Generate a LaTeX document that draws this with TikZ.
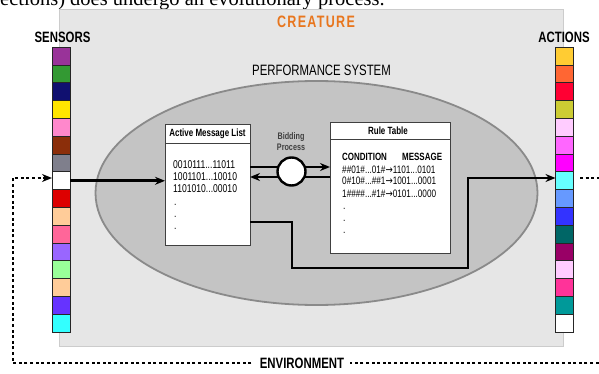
\documentclass[tikz,border=0pt]{standalone}
\usepackage{fontspec}
\setmainfont{Liberation Sans}
\newfontfamily\condsans[FakeStretch=0.76]{Liberation Sans}
\newfontfamily\serifbody{Liberation Serif}
\newfontfamily\arrowfont[FakeStretch=0.8]{DejaVu Sans}
\usetikzlibrary{arrows.meta}

\definecolor{creaturebg}{HTML}{E6E6E6}
\definecolor{creatureedge}{HTML}{CCCCCC}
\definecolor{perfbg}{HTML}{C4C4C4}
\definecolor{perfedge}{HTML}{8A8A8A}
\definecolor{creatureorange}{HTML}{E8761E}
% sensor colours, top to bottom
\definecolor{sA}{HTML}{993399}\definecolor{sB}{HTML}{339933}
\definecolor{sC}{HTML}{101070}\definecolor{sD}{HTML}{FFE600}
\definecolor{sE}{HTML}{FF88CC}\definecolor{sF}{HTML}{8B2E0A}
\definecolor{sG}{HTML}{7F7F8C}\definecolor{sH}{HTML}{FFFFFF}
\definecolor{sI}{HTML}{DD0000}\definecolor{sJ}{HTML}{FFCC99}
\definecolor{sK}{HTML}{FF6699}\definecolor{sL}{HTML}{9966FF}
\definecolor{sM}{HTML}{99FF99}\definecolor{sN}{HTML}{FFCC99}
\definecolor{sO}{HTML}{6633FF}\definecolor{sP}{HTML}{33FFFF}
% action colours, top to bottom
\definecolor{aA}{HTML}{FFCC33}\definecolor{aB}{HTML}{FF6633}
\definecolor{aC}{HTML}{FF0033}\definecolor{aD}{HTML}{CCCC33}
\definecolor{aE}{HTML}{FFCCFF}\definecolor{aF}{HTML}{FF66FF}
\definecolor{aG}{HTML}{FF00FF}\definecolor{aH}{HTML}{66FFFF}
\definecolor{aI}{HTML}{6699FF}\definecolor{aJ}{HTML}{3333FF}
\definecolor{aK}{HTML}{006666}\definecolor{aL}{HTML}{990066}
\definecolor{aM}{HTML}{FFCCFF}\definecolor{aN}{HTML}{FF3399}
\definecolor{aO}{HTML}{009999}\definecolor{aP}{HTML}{FFFFFF}

\tikzset{
  cell/.style={draw=black!85, line width=1pt, minimum width=18pt,
    minimum height=17.8pt, inner sep=0pt, outer sep=0pt},
  flow/.style={line width=2.6pt, draw=black},
  tip/.style={-{Stealth[length=10pt,width=8pt]}},
  envline/.style={line width=2.6pt, dash pattern=on 3pt off 2.6pt},
  panel/.style={draw=black!75, fill=white, line width=0.8pt,
    inner sep=0pt, outer sep=0pt},
  biglabel/.style={font=\condsans\fontsize{15}{15}\selectfont\bfseries,
    inner sep=1pt},
  headlabel/.style={font=\condsans\fontsize{10.5}{11}\selectfont\bfseries,
    inner sep=0pt},
  rowtext/.style={font=\condsans\fontsize{11.3}{12}\selectfont,
    anchor=base west, inner sep=0pt},
  ruletext/.style={rowtext, font=\condsans\fontsize{10.8}{12}\selectfont},
}

\begin{document}
\begin{tikzpicture}[x=1pt, y=-1pt]
\useasboundingbox (0,0) rectangle (599,374);
\clip (0,0) rectangle (599,374);

% running text of the page above the figure
\node[anchor=base west, inner sep=0pt,
  font=\serifbody\fontsize{20.5}{22}\selectfont] (runin) at (0,6)
  {ections) does undergo an evolutionary process.};

% creature panel
\fill[creaturebg, draw=creatureedge, line width=0.8pt]
  (59,9.5) rectangle (563,346);
\node[biglabel, text=creatureorange,
  font=\condsans\fontsize{16.5}{16}\selectfont\bfseries\addfontfeatures{LetterSpace=8}]
  (creature) at (316,22) {CREATURE};

% performance system
\filldraw[draw=perfedge, fill=perfbg, line width=1.8pt]
  (316.5,193) ellipse [x radius=221, y radius=112];
\node[font=\condsans\fontsize{15}{15}\selectfont] (perf) at (321.5,70)
  {PERFORMANCE SYSTEM};

% sensors and actions
\node[biglabel] (sensors) at (62.5,37.5) {SENSORS};
\node[biglabel] (actions) at (564,37.5) {ACTIONS};
\foreach \c [count=\i] in {sA,sB,sC,sD,sE,sF,sG,sH,sI,sJ,sK,sL,sM,sN,sO,sP}
  \node[cell, fill=\c] (s\i) at (61,{47.3+17.8*(\i-0.5)}) {};
\foreach \c [count=\i] in {aA,aB,aC,aD,aE,aF,aG,aH,aI,aJ,aK,aL,aM,aN,aO,aP}
  \node[cell, fill=\c] (a\i) at (564.5,{47.3+17.8*(\i-0.5)}) {};

% active message list
\node[panel, minimum width=85pt, minimum height=121pt] (alm) at (207.5,184.5) {};
\draw[black!75, line width=0.8pt]
  ([yshift=-19pt]alm.north west) -- ([yshift=-19pt]alm.north east);
\node[headlabel] (almhead) at (207.5,134) {Active Message List};
\node[rowtext] (m1) at (173,168) {0010111...11011};
\node[rowtext] (m2) at (173,180.5) {1001101...10010};
\node[rowtext] (m3) at (173,193) {1101010...00010};
\node[rowtext] (md1) at (174,205) {.};
\node[rowtext] (md2) at (174,217) {.};
\node[rowtext] (md3) at (174,229) {.};

% rule table
\node[panel, minimum width=120pt, minimum height=131pt] (rules) at (390,187.5) {};
\draw[black!75, line width=0.8pt]
  ([yshift=-17pt]rules.north west) -- ([yshift=-17pt]rules.north east);
\node[headlabel] (ruleshead) at (388,131) {Rule Table};
\node[rowtext, font=\condsans\fontsize{10.5}{11}\selectfont\bfseries]
  (cond) at (342,160.5) {CONDITION};
\node[rowtext, font=\condsans\fontsize{10.5}{11}\selectfont\bfseries]
  (msg) at (402,160.5) {MESSAGE};
\node[ruletext] (r1) at (342,173.5) {\#\#01\#...01\#{\arrowfont→}1101...0101};
\node[ruletext] (r2) at (342,185) {0\#10\#...\#\#1{\arrowfont→}1001...0001};
\node[ruletext] (r3) at (342,197) {1\#\#\#\#...\#1\#{\arrowfont→}0101...0000};
\node[rowtext] (rd1) at (343,209) {.};
\node[rowtext] (rd2) at (343,221) {.};
\node[rowtext] (rd3) at (343,233) {.};

% bidding process
\node[font=\condsans\fontsize{9.5}{10}\selectfont\bfseries, text=black!75,
  align=center, inner sep=0pt] (bidlabel) at (291,141.5)
  {Bidding\\[1.5pt]Process};
\coordinate (almtop) at (alm.east |- 0,167);
\coordinate (almbot) at (alm.east |- 0,177);
\coordinate (rulestop) at (rules.west |- 0,167);
\coordinate (rulesbot) at (rules.west |- 0,177);
\draw[flow, tip] (almtop) -- (rulestop);
\draw[flow, tip] (rulesbot) -- (almbot);
\node[circle, draw=black, fill=white, line width=2.4pt, minimum size=28pt,
  inner sep=0pt] (bid) at (291.5,171.5) {};

% signal paths
\draw[flow, tip] (s8.east) -- (s8.east -| alm.west);
\coordinate (almout) at (alm.east |- 0,222);
\draw[flow, tip] (almout) -- (292,222) -- (292,268) -- (468,268)
  -- (468,178) -- (a8.west |- 0,178);

% environment loop
\coordinate (envout) at (580,178);
\coordinate (envcorner) at (13,363);
\draw[envline, tip] (envout) -- (620,178) -- (620,363) -- (envcorner)
  -- (13,178) -- (s8.west |- 0,178);
\node[biglabel, fill=white, inner xsep=6pt] (env) at (302,363) {ENVIRONMENT};
\end{tikzpicture}
\end{document}
